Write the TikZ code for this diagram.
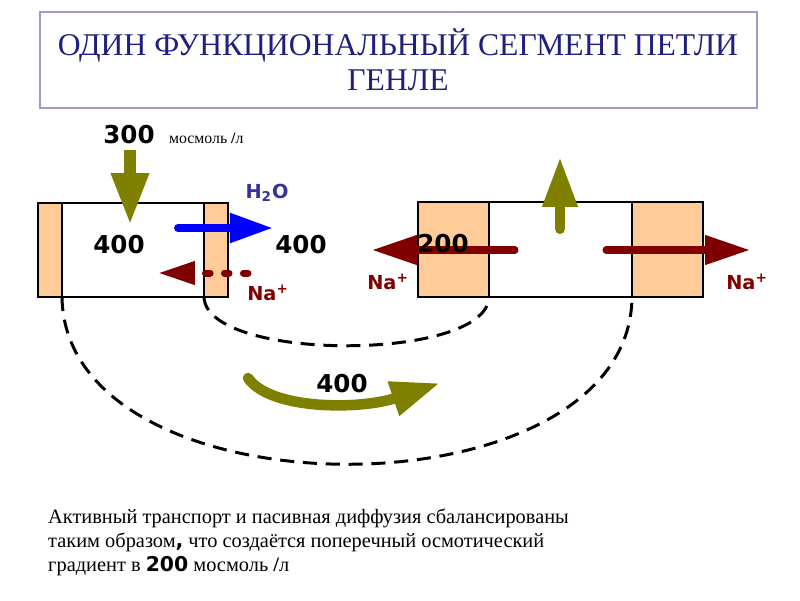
\documentclass[tikz,border=0pt]{standalone}
\usepackage{fontspec}
\setmainfont{Liberation Serif}
\newfontfamily\numfont{DejaVu Sans}
\usetikzlibrary{arrows.meta}

\definecolor{tube}{HTML}{FFCC99}
\definecolor{oliv}{HTML}{808000}
\definecolor{darkred}{HTML}{800000}
\definecolor{water}{HTML}{0000FF}
\definecolor{waterlabel}{HTML}{333399}
\definecolor{titleblue}{HTML}{1F1F80}
\definecolor{titleline}{HTML}{9C9CCC}

\tikzset{
    num/.style={font=\numfont\bfseries\fontsize{14}{16}\selectfont},
    ion/.style={font=\numfont\bfseries\fontsize{11}{13}\selectfont, text=darkred},
    loopline/.style={line width=1.7pt, dash pattern=on 8pt off 5pt}
}

\begin{document}
\begin{tikzpicture}[x=0.02cm,y=-0.02cm]
        \useasboundingbox (0,0) rectangle (800,600);
        \fill[white] (0,0) rectangle (800,600);

        % title
        \draw[titleline, line width=0.8pt] (40,12) rectangle (757,108);
        \node[text=titleblue, font=\fontsize{18}{20}\selectfont, align=center] (title) at (398,60) {ОДИН ФУНКЦИОНАЛЬНЫЙ СЕГМЕНТ ПЕТЛИ\\ГЕНЛЕ};

        % tubes
        \draw[fill=white, line width=0.8pt] (38,203) rectangle (228,297);
        \draw[fill=white, line width=0.8pt] (418,202) rectangle (703,297);
        \foreach \a/\b in {38/62,204/228}
            \draw[fill=tube, line width=0.8pt] (\a,203) rectangle (\b,297);
        \foreach \a/\b in {418/489,632/703}
            \draw[fill=tube, line width=0.8pt] (\a,202) rectangle (\b,297);

        % loop
        \draw[loopline] (204,297) .. controls (206,362) and (487,362) .. (489,297);
        \draw[loopline] (62,297) .. controls (65,520) and (630,520) .. (632,297);

        % arrows
        \draw[oliv, line width=6.8pt, -{Triangle[length=29.6pt,width=20pt]}] (130,150) -- (130,225);
        \draw[oliv, line width=5.7pt, line cap=round, -{Triangle[length=28.4pt,width=18.8pt]}] (560,229) -- (560,157);
        \draw[water, line width=4.5pt, line cap=round, -{Triangle[length=24.5pt,width=16pt]}] (178,228) -- (273,228);
        \draw[darkred, line width=4pt, line cap=round, dash pattern=on 2.6pt off 8.2pt, -{Triangle[length=21pt,width=12.5pt]}] (248,273) -- (158,273);
        \draw[darkred, line width=4pt, line cap=round, -{Triangle[length=25.6pt,width=16pt]}] (515,250) -- (372,250);
        \draw[darkred, line width=4pt, line cap=round, -{Triangle[length=25.6pt,width=16pt]}] (606,250) -- (750,250);
        \draw[oliv, line width=6pt, line cap=round, -{Triangle[length=28pt,width=19pt]}] (248,378) .. controls (270,410) and (360,410) .. (440,383);

        % labels
        \node[num] (c300) at (129,135) {300};
        \node[anchor=base west, inner sep=0pt, font=\fontsize{9}{11}\selectfont] (unit) at ([xshift=4.5pt]c300.base east) {мосмоль {\bfseries /}л};
        \node[num] (in400) at (119,245) {400};
        \node[num] (out400) at (301,245) {400};
        \node[num] (c200) at (443,244) {200};
        \node[num] (loop400) at (342,384) {400};
        \node[text=waterlabel, font=\numfont\bfseries\fontsize{11}{13}\selectfont] (water) at (267,193) {H\textsubscript{2}O};
        \node[ion] (na1) at (268,293) {Na\textsuperscript{+}};
        \node[ion] (na2) at (388,282) {Na\textsuperscript{+}};
        \node[ion] (na3) at (747,282) {Na\textsuperscript{+}};

        % note
        \node[anchor=north west, align=left, font=\fontsize{11.6}{13.7}\selectfont] (note) at (42,503) {Активный транспорт и пасивная диффузия сбалансированы\\таким образом{\numfont\bfseries ,} что создаётся поперечный осмотический\\градиент в {\numfont\bfseries 200} мосмоль {\bfseries /}л};
    \end{tikzpicture}
\end{document}
